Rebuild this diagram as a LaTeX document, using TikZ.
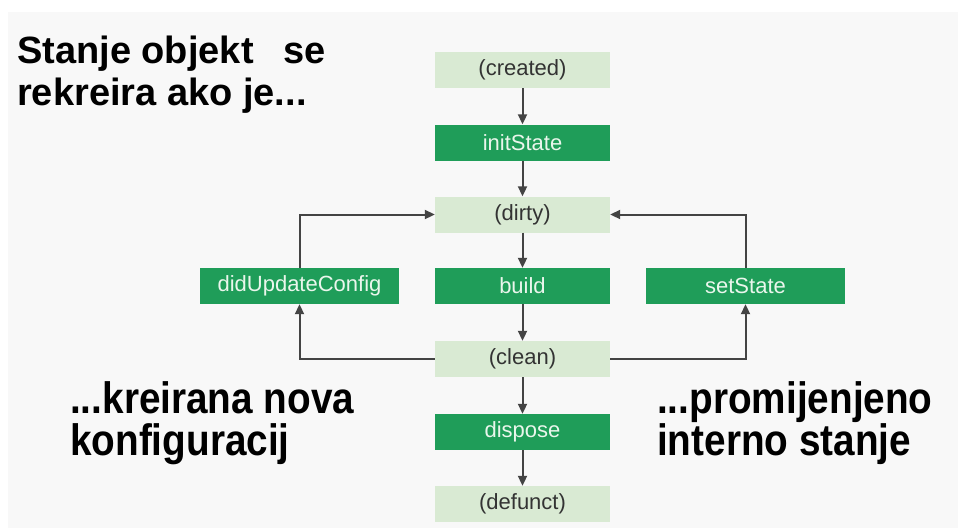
\documentclass[tikz,border=0pt]{standalone}
\usepackage{fontspec}
\setmainfont{Liberation Sans}
\newfontfamily\narrowfont[FakeStretch=0.88]{Liberation Sans}
\usetikzlibrary{arrows.meta}
\definecolor{bggray}{HTML}{F8F8F8}
\definecolor{lightgreen}{HTML}{D9EAD3}
\definecolor{darkgreen}{HTML}{1F9D59}
\definecolor{arrowgray}{HTML}{444444}
\definecolor{lighttext}{HTML}{333333}
\definecolor{darktext}{HTML}{EAF6EC}
\tikzset{
  statebox/.style={fill=lightgreen, text=lighttext, minimum width=175pt, minimum height=36pt, inner sep=0pt, font=\fontsize{22}{24}\selectfont},
  methodbox/.style={fill=darkgreen, text=darktext, minimum width=175pt, minimum height=36pt, inner sep=0pt, font=\fontsize{22}{24}\selectfont},
  sidebox/.style={methodbox, minimum width=199pt},
  flow/.style={draw=arrowgray, line width=2pt, -{Triangle[length=10pt,width=9pt]}},
  titletext/.style={anchor=base west, inner sep=0pt, font=\bfseries\fontsize{38}{44}\selectfont},
  notetext/.style={anchor=base west, inner sep=0pt, font=\narrowfont\bfseries\fontsize{44}{46}\selectfont}
}
\begin{document}
\begin{tikzpicture}[x=1pt,y=-1pt]
\useasboundingbox (0,0) rectangle (958,528);
\fill[white] (0,0) rectangle (958,528);
\fill[bggray] (8,12) rectangle (958,528);

\node[statebox] (created) at (522.5,70) {(created)};
\node[methodbox] (init) at (522.5,142.5) {initState};
\node[statebox] (dirty) at (522.5,214.5) {(dirty)};
\node[methodbox] (build) at (522.5,286) {build};
\node[sidebox] (didupdate) at (299.5,286) {didUpdateConfig};
\node[sidebox] (setstate) at (745.5,286) {setState};
\node[statebox] (clean) at (522.5,359) {(clean)};
\node[methodbox] (dispose) at (522.5,432) {dispose};
\node[statebox] (defunct) at (522.5,504) {(defunct)};

\draw[flow] (created) -- (init);
\draw[flow] (init) -- (dirty);
\draw[flow] (dirty) -- (build);
\draw[flow] (build) -- (clean);
\draw[flow] (clean) -- (dispose);
\draw[flow] (dispose) -- (defunct);

\draw[flow] (clean.west) -| (didupdate.south);
\draw[flow] (didupdate.north) |- (dirty.west);
\draw[flow] (clean.east) -| (setstate.south);
\draw[flow] (setstate.north) |- (dirty.east);

\node[titletext] (t1) at (17,63) {Stanje objekt\hspace{30pt}se};
\node[titletext] (t2) at (17,105) {rekreira ako je...};
\node[notetext] (l1) at (70,413) {...kreirana nova};
\node[notetext] (l2) at (70,455) {konfiguracij};
\node[notetext] (r1) at (657,413) {...promijenjeno};
\node[notetext] (r2) at (657,455) {interno stanje};
\end{tikzpicture}
\end{document}
